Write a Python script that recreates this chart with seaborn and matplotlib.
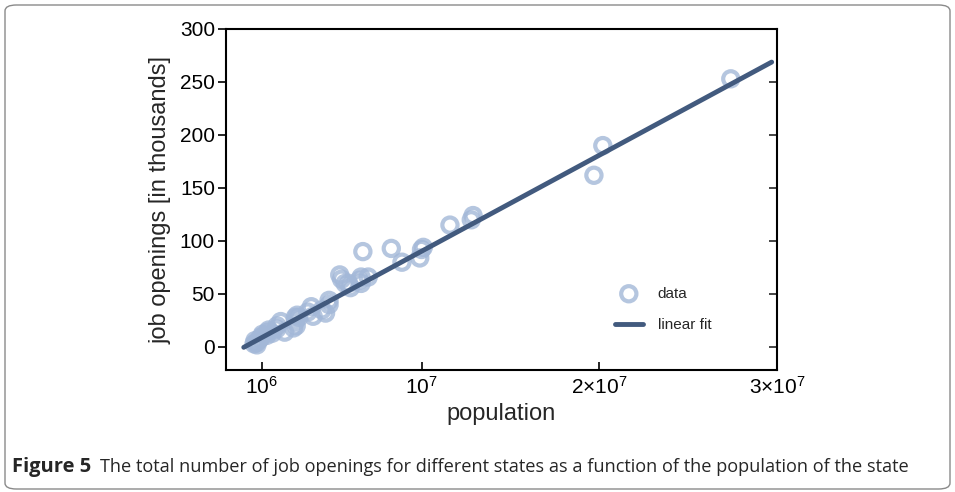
import numpy as np
import pandas as pd
import matplotlib
matplotlib.use("Agg")
import matplotlib.pyplot as plt
from matplotlib.patches import FancyBboxPatch
import seaborn as sns

# State population (people) and job openings (thousands)
population_m = [0.58, 0.63, 0.72, 0.74, 0.85, 0.93, 1.02, 1.05, 1.30, 1.32,
                1.40, 1.60, 1.85, 1.87, 2.08, 2.30, 2.80, 2.90, 2.90, 2.95,
                3.00, 3.10, 3.60, 3.80, 3.90, 4.40, 4.60, 4.80, 4.80, 5.40,
                5.50, 5.70, 5.90, 6.00, 6.50, 6.60, 6.60, 6.70, 7.00, 8.30,
                8.90, 9.90, 10.0, 10.1, 11.6, 12.8, 12.9, 19.7, 20.2, 27.4]
job_openings = [3, 6, 4, 2, 7, 8, 10, 12, 11, 14,
                16, 13, 17, 20, 24, 14, 18, 24, 28, 20,
                30, 28, 33, 38, 29, 35, 32, 44, 40, 68,
                64, 60, 60, 56, 63, 60, 66, 90, 66, 93,
                80, 84, 92, 94, 115, 120, 124, 162, 190, 253]

# Linear fit parameters and the span over which the fit is drawn
fit_slope = 9.06e-6
fit_intercept = -0.3
fit_span = [0.0, 2.97e7]

x_ticks = [1e6, 1e7, 2e7, 3e7]
x_tick_labels = [r"$10^6$", r"$10^7$", r"$2{\times}10^7$", r"$3{\times}10^7$"]
y_ticks = [0, 50, 100, 150, 200, 250, 300]

df = pd.DataFrame({"population": np.array(population_m) * 1e6,
                   "jobs": job_openings})
fit_df = pd.DataFrame({"population": fit_span,
                       "jobs": [fit_slope * v + fit_intercept for v in fit_span]})

sns.set_theme(style="white")
plt.rcParams["font.family"] = ["Liberation Sans", "DejaVu Sans"]
plt.rcParams["mathtext.fontset"] = "custom"
plt.rcParams["mathtext.rm"] = "Liberation Sans"
plt.rcParams["mathtext.it"] = "Liberation Sans:italic"

fig = plt.figure(figsize=(9.55, 4.92), dpi=100)
ax = fig.add_axes([226 / 955, 1 - 370 / 492, 551 / 955, 341 / 492])

point_color = "#a3b8d8"
line_color = "#425a7e"

sns.scatterplot(data=df, x="population", y="jobs", ax=ax, marker="o",
                s=120, facecolor="none", edgecolor=point_color, linewidth=3.0,
                alpha=0.8, label="data", zorder=2)
sns.lineplot(data=fit_df, x="population", y="jobs", ax=ax, color=line_color,
             linewidth=3.5, label="linear fit", zorder=3)

ax.set_xlim(-1.0e6, 3.0e7)
ax.set_ylim(-21.7, 300)
ax.set_xticks(x_ticks)
ax.set_xticklabels(x_tick_labels)
ax.set_yticks(y_ticks)
ax.tick_params(axis="x", direction="in", length=6, width=1.2, labelsize=15,
               pad=4, colors="black", top=False, bottom=True)
ax.tick_params(axis="y", direction="out", length=6, width=1.2, labelsize=15,
               pad=2, colors="black", left=True)
# inward ticks along the right edge
ax_r = ax.secondary_yaxis("right")
ax_r.set_yticks(y_ticks)
ax_r.tick_params(axis="y", direction="in", length=6, width=1.2, labelright=False)
ax_r.spines["right"].set_visible(False)

for sp in ax.spines.values():
    sp.set_visible(True)
    sp.set_color("black")
    sp.set_linewidth(1.5)

ax.set_xlabel("population", fontsize=17, labelpad=4)
ax.set_ylabel("job openings [in thousands]", fontsize=17, labelpad=6)

leg = ax.legend(loc="upper left", bbox_to_anchor=(0.695, 0.262), frameon=False,
                fontsize=11, handlelength=1.8, labelspacing=1.15,
                handletextpad=1.0, borderaxespad=0)

# rounded panel border and caption
fig.patches.append(FancyBboxPatch((5 / 955, 3 / 492), 945 / 955, 484 / 492,
                                  boxstyle="round,pad=0,rounding_size=0.012",
                                  transform=fig.transFigure, facecolor="none",
                                  edgecolor="#8a8a8a", linewidth=1.0))
fig.text(12 / 955, 1 - 467 / 492, "Figure 5", fontsize=14.5, fontweight="bold",
         family=["Open Sans", "DejaVu Sans"], va="center", ha="left")
fig.text(100 / 955, 1 - 467 / 492,
         "The total number of job openings for different states as a function of the population of the state",
         fontsize=13.1, family=["Open Sans", "DejaVu Sans"], va="center", ha="left")

fig.savefig("out.png", dpi=100)
